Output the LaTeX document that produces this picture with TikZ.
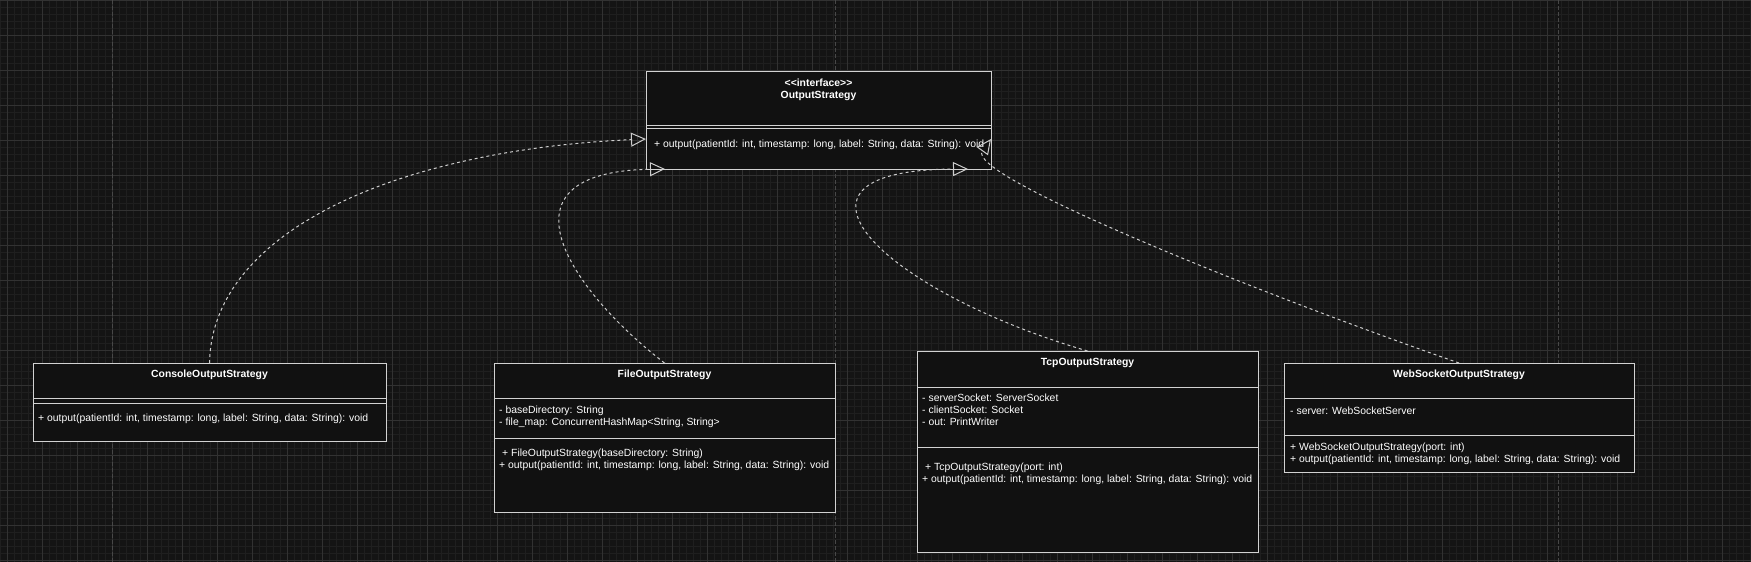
\documentclass[tikz,border=0pt]{standalone}
\usepackage{fontspec}
\setmainfont{Liberation Sans}
\usetikzlibrary{arrows.meta,positioning}
\pgfdeclarelayer{bg}
\pgfsetlayers{bg,main}
\definecolor{canvas}{RGB}{20,20,20}
\definecolor{minorline}{RGB}{31,31,31}
\definecolor{majorline}{RGB}{50,50,50}
\definecolor{pageline}{RGB}{72,72,72}
\definecolor{boxfill}{RGB}{17,17,17}
\definecolor{boxline}{RGB}{210,210,210}
\definecolor{linkline}{RGB}{205,205,205}
\tikzset{
    part/.style={rectangle, draw=boxline, fill=boxfill, line width=1pt, inner sep=0pt, outer sep=0pt, anchor=north west},
    classname/.style={text=white, inner sep=0pt, anchor=north, align=center, font=\fontsize{10.4}{11.5}\selectfont\bfseries},
    member/.style={text=white, inner sep=0pt, anchor=north west, align=left, font=\fontsize{10.4}{12}\selectfont},
    realizes/.style={draw=linkline, line width=1pt, dash pattern=on 3pt off 3pt, -{Triangle[open, length=15pt, width=14pt]}}
}

\begin{document}
\begin{tikzpicture}[x=1pt, y=-1pt]
        \useasboundingbox (0,0) rectangle (1751,562);
        \begin{pgfonlayer}{bg}
                \fill[canvas] (0,0) rectangle (1751,562);
                \draw[minorline, line width=1pt, step=7pt] (0,562) grid (1751,0);
                \draw[majorline, line width=1pt, step=35pt, xshift=7pt] (-7,562) grid (1744,0);
                \foreach \px in {112, 835, 1558}
                        \draw[pageline, line width=1pt, dash pattern=on 4pt off 2pt] (\px,0) -- (\px,562);
        \end{pgfonlayer}
        % interface
        \node[part, minimum width=345pt, minimum height=54pt] (iface-h) at (646,71) {};
        \node[part, minimum width=345pt, minimum height=3pt, below=0pt of iface-h] (iface-a) {};
        \node[part, minimum width=345pt, minimum height=41pt, below=0pt of iface-a] (iface-m) {};
        \node[classname, below=8pt of iface-h.north] (iface-t) {<{}<interface>{}>\\OutputStrategy};
        \node[member, below right=12pt and 8pt of iface-m.north west] (iface-ops) {+ output(patientId: int, timestamp: long, label: String, data: String): void};
        % console
        \node[part, minimum width=353pt, minimum height=35pt] (con-h) at (33,363) {};
        \node[part, minimum width=353pt, minimum height=5pt, below=0pt of con-h] (con-a) {};
        \node[part, minimum width=353pt, minimum height=38pt, below=0pt of con-a] (con-m) {};
        \node[classname, below=7pt of con-h.north] (con-t) {ConsoleOutputStrategy};
        \node[member, below right=11pt and 5pt of con-m.north west] (con-ops) {+ output(patientId: int, timestamp: long, label: String, data: String): void};
        % file
        \node[part, minimum width=341pt, minimum height=35pt] (file-h) at (494,363) {};
        \node[part, minimum width=341pt, minimum height=40pt, below=0pt of file-h] (file-a) {};
        \node[part, minimum width=341pt, minimum height=74pt, below=0pt of file-a] (file-m) {};
        \node[classname, below=7pt of file-h.north] (file-t) {FileOutputStrategy};
        \node[member, below right=8pt and 5pt of file-a.north west] (file-attrs) {- baseDirectory: String\\- file\_map: ConcurrentHashMap<String, String>};
        \node[member, below right=11pt and 5pt of file-m.north west] (file-ops) {\hspace*{3pt}+ FileOutputStrategy(baseDirectory: String)\\+ output(patientId: int, timestamp: long, label: String, data: String): void};
        % tcp
        \node[part, minimum width=341pt, minimum height=36pt] (tcp-h) at (917,351) {};
        \node[part, minimum width=341pt, minimum height=60pt, below=0pt of tcp-h] (tcp-a) {};
        \node[part, minimum width=341pt, minimum height=105pt, below=0pt of tcp-a] (tcp-m) {};
        \node[classname, below=7pt of tcp-h.north] (tcp-t) {TcpOutputStrategy};
        \node[member, below right=7pt and 5pt of tcp-a.north west] (tcp-attrs) {- serverSocket: ServerSocket\\- clientSocket: Socket\\- out: PrintWriter};
        \node[member, below right=16pt and 5pt of tcp-m.north west] (tcp-ops) {\hspace*{3pt}+ TcpOutputStrategy(port: int)\\+ output(patientId: int, timestamp: long, label: String, data: String): void};
        % websocket
        \node[part, minimum width=350pt, minimum height=35pt] (ws-h) at (1284,363) {};
        \node[part, minimum width=350pt, minimum height=37pt, below=0pt of ws-h] (ws-a) {};
        \node[part, minimum width=350pt, minimum height=37pt, below=0pt of ws-a] (ws-m) {};
        \node[classname, below=7pt of ws-h.north] (ws-t) {WebSocketOutputStrategy};
        \node[member, below right=9pt and 6pt of ws-a.north west] (ws-attrs) {- server: WebSocketServer};
        \node[member, below right=8pt and 6pt of ws-m.north west] (ws-ops) {+ WebSocketOutputStrategy(port: int)\\+ output(patientId: int, timestamp: long, label: String, data: String): void};
        % realizations
        \draw[realizes] (con-h.north) .. controls (212,230) and (400,150) .. ([yshift=-11pt]iface-m.north west);
        \draw[realizes] (file-h.north) .. controls (570,290) and (490,172) .. ([xshift=19pt]iface-m.south west);
        \draw[realizes] (tcp-h.north) .. controls (880,290) and (760,170) .. ([xshift=-23pt]iface-m.south east);
        \draw[realizes] (ws-h.north) .. controls (1250,290) and (965,175) .. ([yshift=-11pt]iface-m.north east);
\end{tikzpicture}
\end{document}
